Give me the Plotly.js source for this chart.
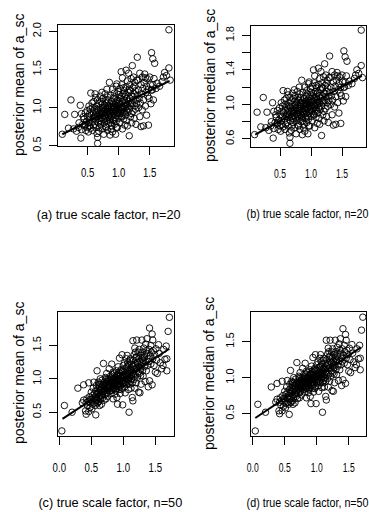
<!DOCTYPE html>
<html><head><meta charset="utf-8">
<script src="https://cdn.plot.ly/plotly-3.0.1.min.js"></script>
<style>html,body{margin:0;padding:0;background:#fff}</style>
</head><body><div id="chart" style="width:369px;height:512px"></div>
<script>
// ---- data: true scale factor (x) and posterior estimates (y), n = 20 ----
const xN20 = [
0.09,0.13,0.19,0.23,0.27,0.29,0.32,0.35,0.36,0.38,0.39,0.40,0.40,
0.42,0.43,0.44,0.45,0.46,0.46,0.47,0.48,0.49,0.50,0.50,0.51,0.52,0.52,0.53,0.54,0.55,0.55,0.54,0.53,
0.56,0.57,0.58,0.58,0.59,0.60,0.60,0.61,0.61,0.62,0.62,0.63,0.63,0.64,0.64,0.65,0.65,0.66,0.66,0.66,0.67,0.67,0.68,0.68,0.69,0.69,0.70,0.70,0.70,0.57,0.59,0.63,0.68,0.61,0.65,
0.71,0.71,0.72,0.72,0.73,0.73,0.74,0.74,0.75,0.75,0.76,0.76,0.77,0.77,0.78,0.78,0.79,0.79,0.80,0.80,0.81,0.81,0.82,0.82,0.83,0.83,0.84,0.84,0.85,0.85,0.72,0.74,0.76,0.78,0.80,0.82,0.84,0.73,0.75,0.77,0.79,0.81,0.83,0.85,0.86,
0.86,0.86,0.87,0.87,0.88,0.88,0.89,0.89,0.90,0.90,0.90,0.91,0.91,0.92,0.92,0.93,0.93,0.94,0.94,0.95,0.95,0.95,0.96,0.96,0.97,0.97,0.97,0.98,0.98,0.99,0.99,1.00,1.00,1.00,0.87,0.88,0.89,0.91,0.92,0.93,0.94,0.96,0.98,0.99,0.86,0.90,0.92,0.94,0.96,0.97,
1.01,1.01,1.02,1.02,1.03,1.03,1.04,1.04,1.05,1.05,1.06,1.06,1.06,1.07,1.07,1.08,1.08,1.09,1.09,1.10,1.10,1.10,1.11,1.11,1.12,1.12,1.12,1.13,1.13,1.14,1.14,1.15,1.15,1.02,1.04,1.05,1.07,1.08,1.09,1.11,1.13,1.14,1.03,1.06,1.10,
1.16,1.16,1.17,1.17,1.18,1.18,1.19,1.19,1.20,1.20,1.21,1.21,1.22,1.22,1.23,1.23,1.24,1.24,1.25,1.25,1.26,1.26,1.27,1.27,1.28,1.28,1.29,1.29,1.30,1.30,1.17,1.19,1.21,1.23,1.25,
1.31,1.32,1.32,1.33,1.34,1.34,1.35,1.36,1.36,1.37,1.38,1.38,1.39,1.40,1.40,1.41,1.42,1.43,1.43,1.44,1.45,1.45,1.46,1.47,1.48,1.48,1.49,1.50,
1.51,1.52,1.53,1.53,1.54,1.55,1.55,1.56,1.57,1.58,1.60,1.62,1.66,1.70,1.72,1.74,1.77,1.81,1.81,1.83
];
const yMeanN20 = [
0.65,0.91,0.73,1.10,0.72,0.91,0.69,0.74,0.80,1.03,0.60,0.92,0.71,
0.78,0.88,0.85,0.76,0.78,0.93,0.70,0.82,0.96,0.74,0.88,0.68,0.80,1.02,0.92,0.85,1.19,0.73,0.98,0.76,
0.90,0.82,1.00,0.70,0.94,0.86,1.08,0.78,0.97,0.90,1.18,0.74,0.84,1.02,0.93,0.66,0.88,0.53,0.61,1.10,0.80,0.96,0.86,1.05,0.74,0.92,1.00,0.83,1.15,1.06,0.76,1.13,0.69,0.88,0.98,
0.90,0.78,1.08,0.95,0.87,1.20,0.72,0.99,0.84,1.12,0.92,0.65,1.03,0.80,0.96,1.18,0.88,0.75,1.06,0.93,0.83,1.24,0.98,0.70,1.10,0.90,0.79,1.02,1.33,0.94,0.82,1.05,1.00,0.86,0.74,1.14,0.88,0.93,0.96,0.90,1.09,0.95,1.00,0.84,0.64,
1.05,0.92,0.80,1.16,0.98,0.72,1.08,0.89,1.24,0.95,0.68,1.02,0.84,1.12,0.93,0.78,1.19,1.00,0.87,0.65,1.06,0.96,1.28,0.82,1.31,0.99,0.90,1.10,0.74,1.03,0.94,1.17,0.86,0.98,0.95,1.01,0.76,0.97,1.05,0.91,1.14,1.02,0.92,1.21,0.86,1.00,0.83,0.95,0.74,1.08,
1.06,0.92,1.25,0.80,1.00,1.12,1.47,0.89,1.30,0.97,1.39,1.08,0.72,0.94,1.18,1.02,0.85,1.22,1.10,0.99,0.77,1.15,1.05,0.90,1.49,1.27,0.96,1.12,0.83,1.02,1.35,0.94,1.20,1.04,1.15,0.88,1.00,1.26,0.93,1.17,1.04,0.76,0.95,0.99,1.07,
1.45,1.08,0.63,0.98,1.30,1.12,0.88,1.22,1.02,1.38,0.80,1.15,1.55,1.06,0.95,1.26,1.40,1.10,0.86,1.18,1.02,1.33,0.98,1.22,1.10,0.78,1.36,1.05,1.66,1.16,1.24,1.05,0.92,1.14,1.28,
1.36,1.00,1.23,1.12,0.88,1.45,1.06,1.30,0.75,1.18,1.40,0.97,1.25,1.10,0.76,1.33,1.44,1.39,1.02,1.20,1.28,0.90,1.38,1.15,0.77,1.24,1.12,1.40,
1.30,1.05,1.72,1.23,1.23,1.64,1.30,1.10,1.38,1.58,1.25,1.32,1.28,1.34,1.40,1.46,1.42,1.52,2.02,1.36
];
const yMedianN20 = [
0.65,0.91,0.74,1.08,0.73,0.91,0.70,0.75,0.80,1.02,0.61,0.92,0.72,
0.79,0.88,0.85,0.77,0.79,0.93,0.71,0.82,0.96,0.75,0.88,0.69,0.81,1.02,0.92,0.86,1.16,0.74,0.98,0.77,
0.90,0.83,1.00,0.71,0.94,0.86,1.07,0.79,0.97,0.90,1.15,0.75,0.85,1.02,0.93,0.67,0.88,0.55,0.62,1.08,0.81,0.96,0.86,1.04,0.75,0.92,1.00,0.84,1.13,1.05,0.77,1.11,0.70,0.88,0.98,
0.90,0.79,1.07,0.95,0.87,1.17,0.73,0.99,0.84,1.10,0.92,0.66,1.03,0.81,0.96,1.15,0.88,0.76,1.05,0.93,0.84,1.20,0.98,0.71,1.08,0.90,0.80,1.02,1.28,0.94,0.83,1.04,1.00,0.86,0.75,1.12,0.88,0.93,0.96,0.90,1.08,0.95,1.00,0.85,0.65,
1.04,0.92,0.81,1.14,0.98,0.73,1.07,0.89,1.20,0.95,0.69,1.02,0.85,1.10,0.93,0.79,1.16,1.00,0.87,0.66,1.05,0.96,1.24,0.83,1.26,0.99,0.90,1.09,0.75,1.03,0.94,1.14,0.86,0.98,0.95,1.01,0.77,0.97,1.04,0.91,1.12,1.02,0.92,1.18,0.86,1.00,0.84,0.95,0.75,1.07,
1.05,0.92,1.21,0.81,1.00,1.10,1.40,0.89,1.25,0.97,1.33,1.07,0.73,0.94,1.15,1.02,0.85,1.19,1.09,0.99,0.78,1.13,1.04,0.90,1.42,1.23,0.96,1.10,0.84,1.02,1.30,0.94,1.17,1.03,1.13,0.88,1.00,1.22,0.93,1.14,1.03,0.77,0.95,0.99,1.06,
1.38,1.07,0.64,0.98,1.25,1.10,0.88,1.19,1.02,1.32,0.81,1.13,1.47,1.05,0.95,1.22,1.34,1.09,0.86,1.15,1.02,1.28,0.98,1.19,1.09,0.79,1.31,1.04,1.56,1.14,1.20,1.04,0.92,1.12,1.24,
1.31,1.00,1.20,1.10,0.88,1.38,1.05,1.26,0.76,1.15,1.34,0.97,1.21,1.09,0.77,1.28,1.37,1.33,1.02,1.17,1.24,0.90,1.32,1.13,0.78,1.20,1.10,1.34,
1.26,1.04,1.62,1.20,1.20,1.55,1.26,1.09,1.33,1.50,1.22,1.27,1.24,1.30,1.34,1.40,1.36,1.45,1.86,1.31
];
// ---- n = 50 ----
const xN50 = [
0.04,0.08,0.20,0.29,0.36,0.38,0.38,
0.41,0.42,0.43,0.44,0.45,0.46,0.46,0.47,0.48,0.49,0.50,0.50,0.51,0.52,0.52,0.53,0.54,0.54,0.55,0.55,0.42,0.48,
0.56,0.56,0.57,0.57,0.58,0.58,0.59,0.59,0.60,0.60,0.61,0.61,0.62,0.62,0.63,0.63,0.64,0.64,0.65,0.65,0.66,0.66,0.67,0.67,0.68,0.68,0.69,0.69,0.70,0.70,0.57,0.60,0.62,0.64,0.66,0.68,0.70,0.59,0.63,0.67,
0.71,0.71,0.72,0.72,0.73,0.73,0.74,0.74,0.75,0.75,0.76,0.76,0.77,0.77,0.78,0.78,0.79,0.79,0.80,0.80,0.81,0.81,0.82,0.82,0.83,0.83,0.84,0.84,0.85,0.85,0.72,0.74,0.76,0.78,0.80,0.82,0.84,0.73,0.75,0.77,0.79,0.81,0.83,0.85,0.71,
0.86,0.86,0.87,0.87,0.88,0.88,0.89,0.89,0.90,0.90,0.91,0.91,0.92,0.92,0.93,0.93,0.94,0.94,0.95,0.95,0.96,0.96,0.97,0.97,0.98,0.98,0.99,0.99,1.00,1.00,0.86,0.87,0.88,0.89,0.90,0.91,0.92,0.93,0.94,0.95,0.96,0.97,0.98,0.99,1.00,0.87,0.91,0.93,0.95,0.99,
1.01,1.01,1.02,1.02,1.03,1.03,1.04,1.04,1.05,1.05,1.06,1.06,1.07,1.07,1.08,1.08,1.09,1.09,1.10,1.10,1.11,1.11,1.12,1.12,1.13,1.13,1.14,1.14,1.15,1.15,1.02,1.04,1.06,1.08,1.10,1.12,1.14,1.03,1.05,1.07,1.09,1.11,1.13,1.15,1.06,
1.16,1.16,1.17,1.17,1.18,1.18,1.19,1.19,1.20,1.20,1.21,1.21,1.22,1.22,1.23,1.23,1.24,1.24,1.25,1.25,1.26,1.26,1.27,1.27,1.28,1.28,1.29,1.29,1.30,1.30,1.17,1.19,1.21,1.23,1.25,1.27,1.29,1.18,
1.31,1.31,1.32,1.33,1.33,1.34,1.35,1.35,1.36,1.37,1.37,1.38,1.39,1.39,1.40,1.41,1.41,1.42,1.43,1.43,1.44,1.45,1.45,1.46,1.46,1.47,1.48,1.49,1.50,1.32,1.36,1.40,
1.51,1.52,1.53,1.55,1.56,1.58,1.60,1.62,1.63,1.65,1.67,1.68,1.70,1.72,1.68
];
const yMeanN50 = [
0.22,0.60,0.50,0.86,0.64,0.68,0.91,
0.52,0.47,0.70,0.60,0.66,0.51,0.94,0.73,0.57,0.64,0.80,0.69,0.55,0.75,0.62,0.86,0.70,0.95,0.64,0.78,0.64,0.69,
0.73,0.60,0.82,0.46,0.68,0.90,1.12,0.76,0.64,0.85,0.72,0.95,0.80,0.66,0.88,0.74,1.00,0.70,0.83,0.92,0.77,0.62,0.86,0.98,0.72,0.90,1.23,0.81,0.95,0.68,0.70,0.78,0.92,0.84,0.88,0.80,0.86,0.64,0.60,0.75,
0.89,0.76,1.02,0.84,0.93,0.70,0.86,1.08,0.80,0.96,0.90,0.74,1.00,0.85,0.94,1.15,0.82,0.98,0.88,1.04,0.78,0.93,1.22,0.99,0.86,1.06,0.92,0.70,1.00,0.84,0.92,0.78,0.97,0.88,0.95,0.83,1.10,1.00,0.88,0.92,0.90,1.01,0.95,0.91,0.82,
0.96,1.08,0.88,0.77,1.02,0.94,1.12,0.85,0.98,0.72,1.05,0.62,0.92,1.18,1.00,0.84,1.31,0.95,1.08,0.78,1.02,0.90,1.14,0.97,1.36,0.86,0.61,1.05,0.94,1.20,0.90,1.00,0.82,0.95,1.06,0.88,1.00,1.10,0.88,0.98,1.12,0.84,1.00,0.93,1.02,0.92,0.97,0.92,1.04,1.12,
0.98,1.10,0.88,1.24,1.04,0.79,1.15,0.95,1.06,1.30,1.35,0.92,1.12,1.00,0.84,1.20,1.08,0.50,1.02,1.27,0.96,1.14,1.05,0.86,1.22,1.00,1.10,0.72,1.18,1.57,1.02,1.08,1.18,0.98,1.12,1.16,0.94,0.94,1.00,1.24,0.92,1.30,1.08,0.67,1.05,
1.06,1.28,0.99,1.36,1.14,0.86,1.22,1.05,1.32,0.94,1.58,1.16,1.25,1.02,1.40,1.10,0.80,1.30,1.18,1.44,0.79,1.26,1.05,1.35,1.20,0.92,1.58,1.30,1.12,1.40,1.20,1.40,1.33,1.22,1.08,1.15,1.24,1.46,
1.28,1.04,1.46,1.18,1.35,0.96,1.25,1.52,1.12,1.60,1.38,1.20,1.30,0.88,1.44,1.76,0.97,1.34,1.22,1.50,1.40,1.67,0.91,1.58,1.30,1.42,1.20,1.36,1.10,1.32,1.42,1.26,
1.45,1.28,1.08,1.51,1.38,1.24,1.15,1.20,1.44,1.29,1.49,1.12,1.71,1.92,1.30
];
const yMedianN50 = [
0.26,0.63,0.52,0.87,0.66,0.70,0.92,
0.54,0.50,0.72,0.62,0.68,0.54,0.95,0.75,0.60,0.66,0.81,0.71,0.58,0.77,0.64,0.87,0.72,0.96,0.66,0.80,0.66,0.71,
0.75,0.63,0.83,0.49,0.70,0.91,1.10,0.78,0.66,0.86,0.74,0.95,0.82,0.68,0.89,0.76,1.00,0.72,0.84,0.93,0.79,0.65,0.87,0.98,0.74,0.91,1.21,0.83,0.95,0.71,0.72,0.80,0.93,0.85,0.89,0.82,0.87,0.66,0.63,0.77,
0.90,0.78,1.02,0.85,0.94,0.72,0.87,1.07,0.82,0.96,0.91,0.76,1.00,0.86,0.94,1.13,0.84,0.98,0.89,1.04,0.80,0.94,1.20,0.99,0.87,1.05,0.93,0.72,1.00,0.85,0.93,0.80,0.97,0.89,0.95,0.84,1.09,1.00,0.89,0.93,0.91,1.01,0.95,0.92,0.84,
0.96,1.07,0.89,0.79,1.02,0.94,1.11,0.86,0.98,0.74,1.05,0.64,0.93,1.16,1.00,0.85,1.28,0.95,1.07,0.80,1.02,0.91,1.13,0.97,1.32,0.87,0.64,1.05,0.94,1.18,0.91,1.00,0.84,0.95,1.05,0.89,1.00,1.09,0.89,0.98,1.11,0.85,1.00,0.94,1.02,0.93,0.97,0.93,1.04,1.11,
0.98,1.09,0.89,1.22,1.04,0.81,1.14,0.95,1.05,1.27,1.32,0.93,1.11,1.00,0.86,1.18,1.07,0.52,1.02,1.24,0.96,1.13,1.04,0.87,1.20,1.00,1.09,0.74,1.16,1.52,1.02,1.07,1.16,0.98,1.11,1.14,0.95,0.95,1.00,1.22,0.93,1.27,1.07,0.69,1.04,
1.05,1.25,0.99,1.33,1.13,0.87,1.20,1.05,1.29,0.95,1.52,1.14,1.23,1.02,1.36,1.09,0.82,1.27,1.16,1.40,0.81,1.23,1.05,1.32,1.18,0.93,1.52,1.27,1.11,1.36,1.18,1.36,1.30,1.20,1.07,1.14,1.22,1.41,
1.25,1.04,1.42,1.16,1.32,0.96,1.23,1.47,1.11,1.54,1.34,1.18,1.27,0.89,1.40,1.68,0.97,1.31,1.20,1.45,1.36,1.60,0.92,1.52,1.27,1.38,1.18,1.32,1.09,1.29,1.38,1.23,
1.41,1.25,1.07,1.46,1.34,1.22,1.14,1.18,1.40,1.26,1.45,1.11,1.66,1.84,1.27
];
// ---- fitted lines (end points) ----
const fitMeanN20X = [0.09, 1.82],   fitMeanN20Y = [0.65, 1.35];
const fitMedianN20X = [0.10, 1.82], fitMedianN20Y = [0.65, 1.33];
const fitMeanN50X = [0.05, 1.72],   fitMeanN50Y = [0.40, 1.45];
const fitMedianN50X = [0.04, 1.69], fitMedianN50Y = [0.44, 1.42];
// ---- texts and ticks ----
const yTitles = ["posterior mean of a_sc", "posterior median of a_sc", "posterior mean of a_sc", "posterior median of a_sc"];
const subTitles = ["(a) true scale factor, n=20", "(b) true scale factor, n=20", "(c) true scale factor, n=50", "(d) true scale factor, n=50"];
const xTicks20 = [0.5, 1.0, 1.5], xTickText20 = ["0.5", "1.0", "1.5"];
const xTicks50 = [0.0, 0.5, 1.0, 1.5], xTickText50 = ["0.0", "0.5", "1.0", "1.5"];
const yTicksA = [0.5, 1.0, 1.5, 2.0], yTickTextA = ["0.5", "1.0", "1.5", "2.0"];
const yTicksB = [0.6, 0.8, 1.0, 1.2, 1.4, 1.6, 1.8], yTickTextB = ["0.6", "", "1.0", "", "1.4", "", "1.8"];
const yTicksC = [0.5, 1.0, 1.5], yTickTextC = ["0.5", "1.0", "1.5"];

// ---- layout geometry (pixels) ----
const W = 369, H = 512;
const REG = "Liberation Sans, Arial, Helvetica, sans-serif";
const panels = [
  {box: [58, 174, 25, 146], xr: [0.021, 1.892], yr: [0.496, 2.083], xt: xTicks20, xtt: xTickText20, yt: yTicksA, ytt: yTickTextA,
   x: xN20, y: yMeanN20, fx: fitMeanN20X, fy: fitMeanN20Y, ytx: 19, yty: 85, stx: 108, sty: 214, sw: 144, tf: 0.74, so: 6},
  {box: [251, 366, 26, 147], xr: [0.032, 1.887], yr: [0.507, 1.908], xt: xTicks20, xtt: xTickText20, yt: yTicksB, ytt: yTickTextB,
   x: xN20, y: yMedianN20, fx: fitMedianN20X, fy: fitMedianN20Y, ytx: 210, yty: 86, stx: 307, sty: 213, sw: 122, tf: 0.66, so: 6},
  {box: [58, 174, 312, 436], xr: [-0.02, 1.792], yr: [0.144, 2.0], xt: xTicks50, xtt: xTickText50, yt: yTicksC, ytt: yTickTextC,
   x: xN50, y: yMeanN50, fx: fitMeanN50X, fy: fitMeanN50Y, ytx: 19, yty: 373, stx: 110, sty: 502, sw: 144, tf: 0.74, so: 11},
  {box: [251, 366, 312, 436], xr: [-0.027, 1.77], yr: [0.19, 1.912], xt: xTicks50, xtt: xTickText50, yt: yTicksC, ytt: yTickTextC,
   x: xN50, y: yMedianN50, fx: fitMedianN50X, fy: fitMedianN50Y, ytx: 209, yty: 374, stx: 307, sty: 502, sw: 122, tf: 0.66, so: 11}
];

const traces = [];
const layout = {
  width: W, height: H, margin: {l: 0, r: 0, t: 0, b: 0},
  paper_bgcolor: "#fff", plot_bgcolor: "#fff", showlegend: false,
  font: {family: REG, color: "#000"}, annotations: []
};
panels.forEach((p, i) => {
  const n = i === 0 ? "" : String(i + 1);
  const xa = "x" + n, ya = "y" + n;
  traces.push({type: "scatter", mode: "markers", x: p.x, y: p.y, xaxis: xa, yaxis: ya,
    marker: {symbol: "circle-open", size: 6.5, color: "#000", line: {width: 0.9, color: "#000"}}, hoverinfo: "skip"});
  traces.push({type: "scatter", mode: "lines", x: p.fx, y: p.fy, xaxis: xa, yaxis: ya,
    line: {color: "#000", width: 2}, hoverinfo: "skip"});
  const common = {showline: true, mirror: true, linecolor: "#000", linewidth: 1, ticks: "outside", ticklen: 8,
    tickwidth: 1, tickcolor: "#000", showgrid: false, zeroline: false, tickmode: "array", fixedrange: true};
  layout["xaxis" + n] = Object.assign({}, common, {
    domain: [p.box[0] / W, p.box[1] / W], range: p.xr, anchor: ya, tickvals: p.xt, ticktext: p.xtt,
    tickfont: {family: REG, size: 13, color: "#000"}, ticklabelstandoff: p.so});
  layout["yaxis" + n] = Object.assign({}, common, {
    domain: [1 - p.box[3] / H, 1 - p.box[2] / H], range: p.yr, anchor: xa, tickvals: p.yt, ticktext: p.ytt,
    tickangle: -90, tickfont: {family: REG, size: 11, color: "#000"}, ticklabelstandoff: 4});
  layout.annotations.push({text: yTitles[i], xref: "paper", yref: "paper", x: p.ytx / W, y: 1 - p.yty / H,
    xanchor: "center", yanchor: "middle", textangle: -90, showarrow: false, font: {family: REG, size: 14, color: "#000"}});
  layout.annotations.push({text: subTitles[i], xref: "paper", yref: "paper", x: p.stx / W, y: 1 - p.sty / H,
    xanchor: "center", yanchor: "middle", showarrow: false, font: {family: REG, size: 13.5, color: "#000"}});
});

// the reference figure is horizontally condensed: squeeze horizontal texts to the widths seen there
Plotly.newPlot("chart", traces, layout, {staticPlot: true, displayModeBar: false}).then(gd => {
  panels.forEach((p, i) => {
    const id = i === 0 ? "x" : "x" + (i + 1);
    gd.querySelectorAll("g." + id + "tick text").forEach(t => {
      t.setAttribute("textLength", (t.getComputedTextLength() * p.tf).toFixed(1));
      t.setAttribute("lengthAdjust", "spacingAndGlyphs");
    });
    const g = gd.querySelector('g.annotation[data-index="' + (2 * i + 1) + '"]');
    const t = g && g.querySelector("text.annotation-text");
    if (t) {
      const s = p.sw / t.getComputedTextLength();
      g.setAttribute("transform", "translate(" + p.stx + ",0) scale(" + s.toFixed(3) + ",1) translate(" + (-p.stx) + ",0)");
    }
  });
});
</script></body></html>
